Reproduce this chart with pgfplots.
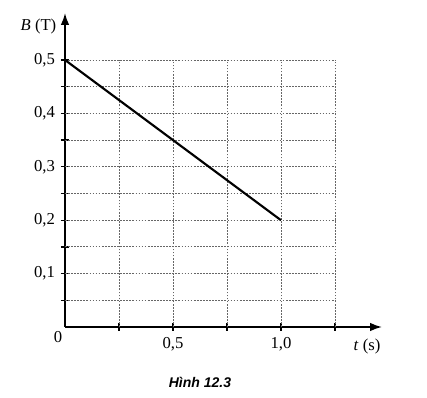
\documentclass[border=0pt]{standalone}
\usepackage{fontspec}
\setmainfont{Liberation Serif}
\newfontfamily\capfont{Liberation Sans}
\usepackage{pgfplots}
\pgfplotsset{compat=1.18}
\usetikzlibrary{arrows.meta}
\begin{document}
\begin{tikzpicture}
\tikzset{gridl/.style={black!60, line width=0.6pt, dash pattern=on 1.3pt off 1pt}}
\begin{axis}[at={(0,0)}, anchor=origin, scale only axis,
  width=237.75pt, height=235.5pt,
  xmin=0, xmax=1.468, ymin=0, ymax=0.588,
  axis lines=left,
  axis line style={line width=1.3pt, -{Latex[length=9pt,width=6.5pt]}},
  xtick={0.25,0.5,0.75,1,1.25}, xticklabels={,{0,5},,{1,0},},
  ytick={0.05,0.1,0.15,0.2,0.25,0.3,0.35,0.4,0.45,0.5},
  yticklabels={,{0,1},,{0,2},,{0,3},,{0,4},,{0,5}},
  tick align=center, major tick length=6pt,
  tick style={line width=1pt, black},
  tick label style={font=\fontsize{12.5}{14}\selectfont},
  xticklabel style={yshift=-1.5pt},
  yticklabel style={xshift=-1pt},
  clip=false]
\draw[gridl] (axis cs:0,0.05) -- (axis cs:1.25,0.05);
\draw[gridl] (axis cs:0,0.10) -- (axis cs:1.25,0.10);
\draw[gridl] (axis cs:0,0.15) -- (axis cs:1.25,0.15);
\draw[gridl] (axis cs:0,0.20) -- (axis cs:1.25,0.20);
\draw[gridl] (axis cs:0,0.25) -- (axis cs:1.25,0.25);
\draw[gridl] (axis cs:0,0.30) -- (axis cs:1.25,0.30);
\draw[gridl] (axis cs:0,0.35) -- (axis cs:1.25,0.35);
\draw[gridl] (axis cs:0,0.40) -- (axis cs:1.25,0.40);
\draw[gridl] (axis cs:0,0.45) -- (axis cs:1.25,0.45);
\draw[gridl] (axis cs:0,0.50) -- (axis cs:1.25,0.50);
\draw[gridl] (axis cs:0.25,0) -- (axis cs:0.25,0.5);
\draw[gridl] (axis cs:0.50,0) -- (axis cs:0.50,0.5);
\draw[gridl] (axis cs:0.75,0) -- (axis cs:0.75,0.5);
\draw[gridl] (axis cs:1.00,0) -- (axis cs:1.00,0.5);
\draw[gridl] (axis cs:1.25,0) -- (axis cs:1.25,0.5);
\addplot[line width=1.6pt, black] coordinates {(0,0.5) (1,0.2)};
\end{axis}
\node[font=\fontsize{12.5}{14}\selectfont, anchor=east] at (-3pt,225pt) {\textit{B} (T)};
\node[font=\fontsize{12.5}{14}\selectfont] at (226.5pt,-14.25pt) {\textit{t} (s)};
\node[font=\fontsize{12.5}{14}\selectfont] at (-5.25pt,-7.5pt) {0};
\node[font=\capfont\bfseries\itshape\fontsize{10.5}{12}\selectfont] at (101.25pt,-41.25pt) {Hình 12.3};
\path (-48.75pt,-53.25pt) rectangle (271.5pt,245.25pt);
\end{tikzpicture}
\end{document}
